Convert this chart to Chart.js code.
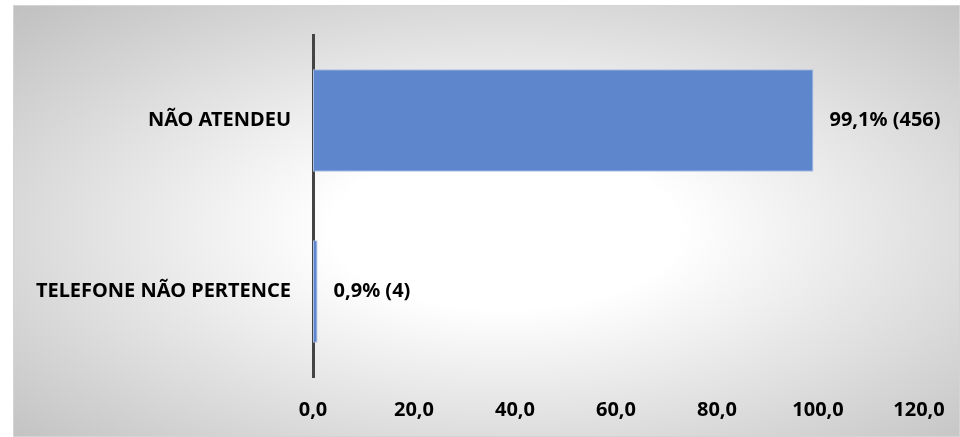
<!DOCTYPE html>
<html>
<head>
<meta charset="utf-8">
<script src="https://cdn.jsdelivr.net/npm/chart.js@4"></script>
<style>
  html, body { margin: 0; padding: 0; background: #ffffff; }
  #frame {
    position: absolute; left: 13px; top: 5px;
    width: 945px; height: 430px;
    border: 1px solid #d4d4d4;
    background: radial-gradient(ellipse farthest-corner at 52% 52%, #ffffff 25%, #c0c0c0 100%);
  }
  canvas { display: block; }
</style>
</head>
<body>
<div id="frame"><canvas id="c" width="945" height="430"></canvas></div>
<script>
const categories = ['NÃO ATENDEU', 'TELEFONE NÃO PERTENCE'];
const percentages = [99.1, 0.9];
const counts = [456, 4];
const xTickValues = [0, 20, 40, 60, 80, 100, 120];

const fmt = v => v.toFixed(1).replace('.', ',');
const FONT = { family: '"Noto Sans", sans-serif', size: 20, weight: 'bold' };

const barLabels = {
  id: 'barLabels',
  afterDatasetsDraw(chart) {
    const ctx = chart.ctx;
    const meta = chart.getDatasetMeta(0);
    ctx.save();
    ctx.font = 'bold 20px "Noto Sans", sans-serif';
    ctx.fillStyle = '#000000';
    ctx.textBaseline = 'middle';
    ctx.textAlign = 'left';
    meta.data.forEach((el, i) => {
      const txt = fmt(percentages[i]) + '% (' + counts[i] + ')';
      ctx.fillText(txt, el.x + 16, el.y);
    });
    ctx.restore();
  }
};

new Chart(document.getElementById('c'), {
  type: 'bar',
  data: {
    labels: categories,
    datasets: [{
      data: percentages,
      backgroundColor: '#5e86cc',
      borderColor: '#a9c0e6',
      borderWidth: 1,
      borderSkipped: false,
      barPercentage: 0.6,
      categoryPercentage: 1.0
    }]
  },
  options: {
    indexAxis: 'y',
    responsive: false,
    animation: false,
    layout: { padding: { top: 29, right: 40, left: 0, bottom: 0 } },
    plugins: { legend: { display: false }, tooltip: { enabled: false } },
    scales: {
      x: {
        min: 0, max: 120,
        afterBuildTicks: s => { s.ticks = xTickValues.map(v => ({ value: v })); },
        ticks: { color: '#000', font: FONT, padding: 21, callback: v => fmt(v), maxRotation: 0 },
        grid: { display: false, drawTicks: false },
        border: { display: false },
        afterFit: s => { s.height = 59; s.paddingLeft = 0; s.paddingRight = 0; }
      },
      y: {
        z: 1,
        ticks: { color: '#000', font: FONT, padding: 22 },
        grid: { display: false, drawTicks: false },
        border: { display: true, color: '#444444', width: 3 },
        afterFit: s => { s.width = 299; s.paddingTop = 0; s.paddingBottom = 0; }
      }
    }
  },
  plugins: [barLabels]
});
</script>
</body>
</html>
